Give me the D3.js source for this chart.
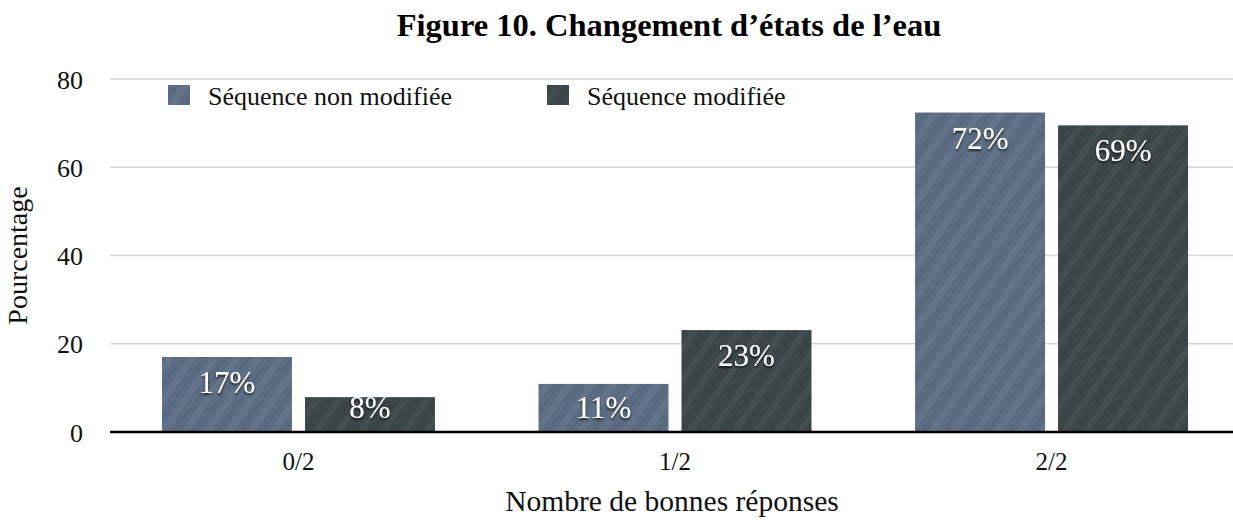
<!DOCTYPE html>
<html><head><meta charset="utf-8">
<script src="https://cdn.jsdelivr.net/npm/d3@7"></script>
<style>body{margin:0;background:#fff}svg{display:block}text{font-family:"Liberation Serif","DejaVu Serif",serif}</style>
</head><body><svg id="c" width="1233" height="526"></svg>
<script>
const categories = ["0/2", "1/2", "2/2"];
const seriesNames = ["Séquence non modifiée", "Séquence modifiée"];
const nonModifiee = [17, 10.9, 72.4];
const modifiee = [7.9, 23.1, 69.5];
const labelsNonModifiee = ["17%", "11%", "72%"];
const labelsModifiee = ["8%", "23%", "69%"];
const yTicks = [0, 20, 40, 60, 80];

const svg = d3.select("#c");
const W = 1233, H = 526;
const m = {l:110, t:79, b:94};
const x0 = d3.scaleBand().domain(categories).range([m.l, 1240]).paddingInner(0.275).paddingOuter(0.138);
const x1 = d3.scaleBand().domain([0,1]).range([0, x0.bandwidth()]).paddingInner(0.091);
const y = d3.scaleLinear().domain([0, 80]).range([H - m.b, m.t]);

const colors = ["#5c6d83", "#3c4649"];
const defs = svg.append("defs");
colors.forEach((c, i) => {
  const p = defs.append("pattern").attr("id", "p" + i).attr("patternUnits", "userSpaceOnUse")
    .attr("width", 18).attr("height", 18).attr("patternTransform", "rotate(35)");
  p.append("rect").attr("width", 18).attr("height", 18).attr("fill", c);
  p.append("rect").attr("width", 6).attr("height", 18).attr("fill", "#fff").attr("opacity", 0.045);
  p.append("rect").attr("x", 11).attr("width", 3).attr("height", 18).attr("fill", "#000").attr("opacity", 0.04);
});
const f = defs.append("filter").attr("id", "sh").attr("x", "-20%").attr("y", "-20%").attr("width", "140%").attr("height", "160%");
f.append("feDropShadow").attr("dx", 0).attr("dy", 2).attr("stdDeviation", 1.2).attr("flood-color", "#000").attr("flood-opacity", 0.7);

// grid
svg.append("g").selectAll("line").data(yTicks.filter(d => d > 0)).join("line")
  .attr("x1", m.l).attr("x2", W).attr("y1", d => y(d)).attr("y2", d => y(d))
  .attr("stroke", "#d6d6d6").attr("stroke-width", 1.5);

// y axis labels
const yAxis = d3.axisLeft(y).tickValues(yTicks).tickSize(0).tickPadding(27);
const ya = svg.append("g").attr("transform", `translate(${m.l},0)`).call(yAxis);
ya.select(".domain").remove();
ya.selectAll("text").attr("font-size", 26).attr("fill", "#111").attr("font-family", "Liberation Serif").attr("dy", "0.35em");

// bars
const series = [nonModifiee, modifiee];
const labels = [labelsNonModifiee, labelsModifiee];
const g = svg.append("g");
categories.forEach((cat, ci) => {
  series.forEach((s, si) => {
    const bx = x0(cat) + x1(si), bw = x1.bandwidth();
    g.append("rect").attr("x", bx).attr("y", y(s[ci])).attr("width", bw)
      .attr("height", y(0) - y(s[ci])).attr("fill", `url(#p${si})`);
    const ty = Math.min(y(s[ci]) + 36, y(0) - 14);
    g.append("text").attr("x", bx + bw / 2).attr("y", ty).attr("text-anchor", "middle")
      .attr("font-size", 31).attr("fill", "#fff").attr("filter", "url(#sh)")
      .text(labels[si][ci]);
  });
});

// baseline
svg.append("line").attr("x1", m.l).attr("x2", W).attr("y1", y(0)).attr("y2", y(0))
  .attr("stroke", "#000").attr("stroke-width", 2.5);

// x axis labels
const xAxis = d3.axisBottom(x0).tickSize(0).tickPadding(20);
const xa = svg.append("g").attr("transform", `translate(0,${y(0)})`).call(xAxis);
xa.select(".domain").remove();
xa.selectAll("text").attr("font-size", 25).attr("fill", "#111").attr("font-family", "Liberation Serif");

// titles
svg.append("text").attr("x", 669).attr("y", 36).attr("text-anchor", "middle")
  .attr("font-size", 32.5).attr("font-weight", "bold").attr("fill", "#000").text("Figure 10. Changement d’états de l’eau");
svg.append("text").attr("x", 672).attr("y", 511).attr("text-anchor", "middle")
  .attr("font-size", 29.5).attr("fill", "#111").text("Nombre de bonnes réponses");
svg.append("text").attr("transform", `translate(27,${(y(0)+y(80))/2}) rotate(-90)`).attr("text-anchor", "middle")
  .attr("font-size", 28).attr("fill", "#111").text("Pourcentage");

// legend
const legX = [168, 547];
seriesNames.forEach((n, i) => {
  svg.append("rect").attr("x", legX[i]).attr("y", 85).attr("width", 22).attr("height", 20).attr("fill", `url(#p${i})`);
  svg.append("text").attr("x", legX[i] + 40).attr("y", 105).attr("font-size", 26).attr("fill", "#111").text(n);
});
</script></body></html>
